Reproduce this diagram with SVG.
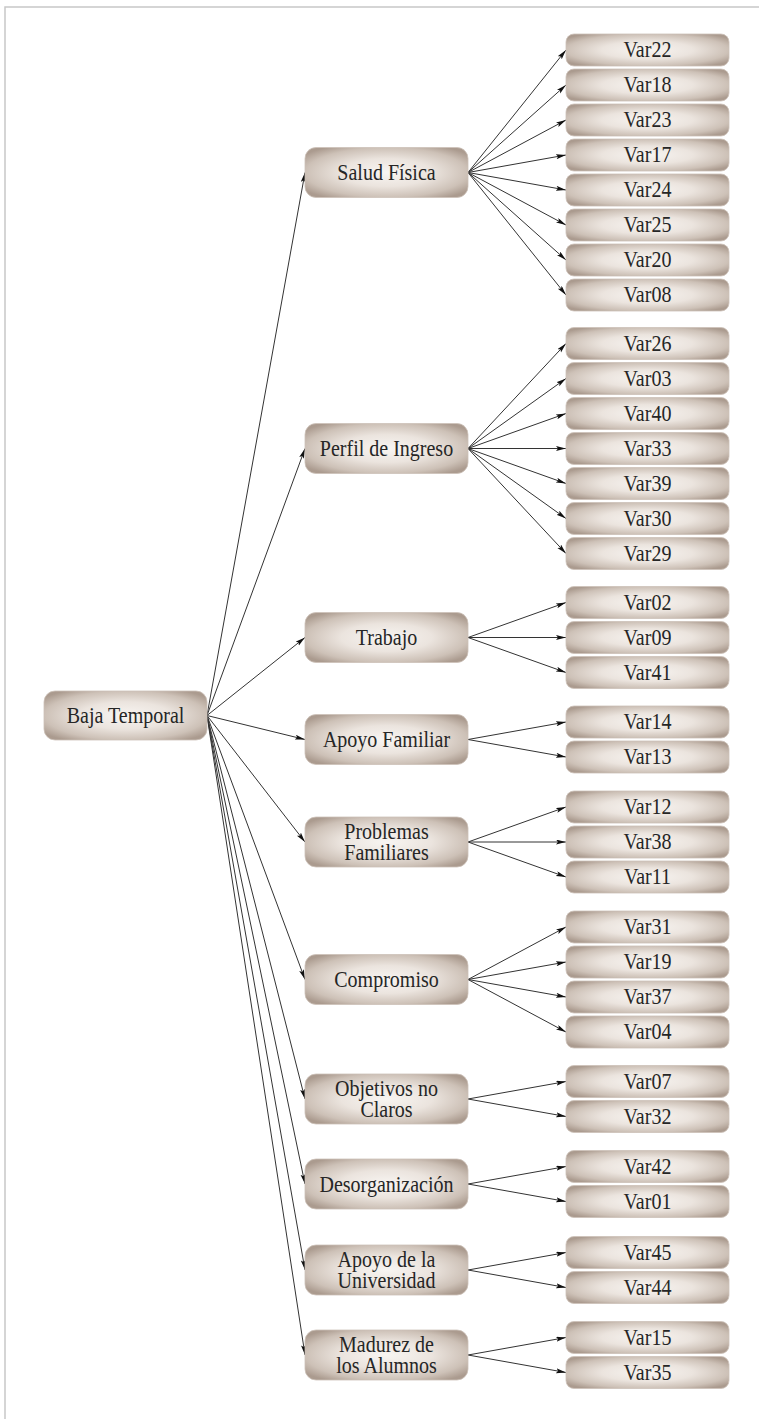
<svg xmlns="http://www.w3.org/2000/svg" width="759" height="1419" viewBox="0 0 759 1419">
<defs>
<radialGradient id="g" cx="0.5" cy="0.5" r="0.62">
<stop offset="0" stop-color="#f8f5f2"/>
<stop offset="0.45" stop-color="#ebe4de"/>
<stop offset="0.8" stop-color="#cdc1b7"/>
<stop offset="1" stop-color="#ab9b8f"/>
</radialGradient>
<marker id="a" markerUnits="userSpaceOnUse" markerWidth="11" markerHeight="6" refX="10" refY="2.5" orient="auto">
<path d="M0,0 L10,2.5 L0,5 L2,2.5 Z" fill="#111"/>
</marker>
</defs>
<style>
.b{fill:url(#g);stroke:#cdc2b9;stroke-width:0.8}
.t{font-family:"Liberation Serif","Times New Roman",serif;font-size:23px;fill:#262626;text-anchor:middle}
.e{fill:none;stroke:#333;stroke-width:1;marker-end:url(#a)}
.f{fill:none;stroke:#c8c8c8;stroke-width:1.5}
</style>
<rect width="759" height="1419" fill="#fff"/>
<path class="f" d="M5,1419 L5,7 L759,7"/>
<g id="connectors">
<path class="e" d="M207,715.5 L305,172.5"/>
<path class="e" d="M207,715.5 L305,448.5"/>
<path class="e" d="M207,715.5 L305,637.5"/>
<path class="e" d="M207,715.5 L305,739.5"/>
<path class="e" d="M207,715.5 L305,842"/>
<path class="e" d="M207,715.5 L305,979.5"/>
<path class="e" d="M207,715.5 L305,1099"/>
<path class="e" d="M207,715.5 L305,1184"/>
<path class="e" d="M207,715.5 L305,1270"/>
<path class="e" d="M207,715.5 L305,1355"/>
<path class="e" d="M468,172.5 L566,50"/>
<path class="e" d="M468,172.5 L566,85"/>
<path class="e" d="M468,172.5 L566,120"/>
<path class="e" d="M468,172.5 L566,155"/>
<path class="e" d="M468,172.5 L566,190"/>
<path class="e" d="M468,172.5 L566,225"/>
<path class="e" d="M468,172.5 L566,260"/>
<path class="e" d="M468,172.5 L566,295"/>
<path class="e" d="M468,448.5 L566,343.5"/>
<path class="e" d="M468,448.5 L566,378.5"/>
<path class="e" d="M468,448.5 L566,413.5"/>
<path class="e" d="M468,448.5 L566,448.5"/>
<path class="e" d="M468,448.5 L566,483.5"/>
<path class="e" d="M468,448.5 L566,518.5"/>
<path class="e" d="M468,448.5 L566,553.5"/>
<path class="e" d="M468,637.5 L566,602.5"/>
<path class="e" d="M468,637.5 L566,637.5"/>
<path class="e" d="M468,637.5 L566,672.5"/>
<path class="e" d="M468,739.5 L566,722"/>
<path class="e" d="M468,739.5 L566,757"/>
<path class="e" d="M468,842 L566,807"/>
<path class="e" d="M468,842 L566,842"/>
<path class="e" d="M468,842 L566,877"/>
<path class="e" d="M468,979.5 L566,927"/>
<path class="e" d="M468,979.5 L566,962"/>
<path class="e" d="M468,979.5 L566,997"/>
<path class="e" d="M468,979.5 L566,1032"/>
<path class="e" d="M468,1099 L566,1081.5"/>
<path class="e" d="M468,1099 L566,1116.5"/>
<path class="e" d="M468,1184 L566,1166.5"/>
<path class="e" d="M468,1184 L566,1201.5"/>
<path class="e" d="M468,1270 L566,1252.5"/>
<path class="e" d="M468,1270 L566,1287.5"/>
<path class="e" d="M468,1355 L566,1337.5"/>
<path class="e" d="M468,1355 L566,1372.5"/>
</g>
<g id="root"><rect class="b" x="44" y="691" width="163" height="49" rx="11"/><text class="t" transform="translate(125.5,722.5) scale(0.87,1)">Baja Temporal</text></g>
<g id="salud"><rect class="b" x="305" y="147.5" width="163" height="50" rx="11"/><text class="t" transform="translate(386.5,180) scale(0.87,1)">Salud Física</text></g>
<g id="perfil"><rect class="b" x="305" y="423.5" width="163" height="50" rx="11"/><text class="t" transform="translate(386.5,456) scale(0.87,1)">Perfil de Ingreso</text></g>
<g id="trabajo"><rect class="b" x="305" y="612.5" width="163" height="50" rx="11"/><text class="t" transform="translate(386.5,645) scale(0.87,1)">Trabajo</text></g>
<g id="apoyofam"><rect class="b" x="305" y="714.5" width="163" height="50" rx="11"/><text class="t" transform="translate(386.5,747) scale(0.87,1)">Apoyo Familiar</text></g>
<g id="problemas"><rect class="b" x="305" y="817" width="163" height="50" rx="11"/><text class="t" transform="translate(386.5,839) scale(0.87,1)"><tspan x="0" y="0">Problemas</tspan><tspan x="0" y="21">Familiares</tspan></text></g>
<g id="compromiso"><rect class="b" x="305" y="954.5" width="163" height="50" rx="11"/><text class="t" transform="translate(386.5,987) scale(0.87,1)">Compromiso</text></g>
<g id="objetivos"><rect class="b" x="305" y="1074" width="163" height="50" rx="11"/><text class="t" transform="translate(386.5,1096) scale(0.87,1)"><tspan x="0" y="0">Objetivos no</tspan><tspan x="0" y="21">Claros</tspan></text></g>
<g id="desorg"><rect class="b" x="305" y="1159" width="163" height="50" rx="11"/><text class="t" transform="translate(386.5,1191.5) scale(0.87,1)">Desorganización</text></g>
<g id="apoyouni"><rect class="b" x="305" y="1245" width="163" height="50" rx="11"/><text class="t" transform="translate(386.5,1267) scale(0.87,1)"><tspan x="0" y="0">Apoyo de la</tspan><tspan x="0" y="21">Universidad</tspan></text></g>
<g id="madurez"><rect class="b" x="305" y="1330" width="163" height="50" rx="11"/><text class="t" transform="translate(386.5,1352) scale(0.87,1)"><tspan x="0" y="0">Madurez de</tspan><tspan x="0" y="21">los Alumnos</tspan></text></g>
<g id="var22"><rect class="b" x="566" y="34" width="163" height="32" rx="8"/><text class="t" transform="translate(647.5,57) scale(0.87,1)">Var22</text></g>
<g id="var18"><rect class="b" x="566" y="69" width="163" height="32" rx="8"/><text class="t" transform="translate(647.5,92) scale(0.87,1)">Var18</text></g>
<g id="var23"><rect class="b" x="566" y="104" width="163" height="32" rx="8"/><text class="t" transform="translate(647.5,127) scale(0.87,1)">Var23</text></g>
<g id="var17"><rect class="b" x="566" y="139" width="163" height="32" rx="8"/><text class="t" transform="translate(647.5,162) scale(0.87,1)">Var17</text></g>
<g id="var24"><rect class="b" x="566" y="174" width="163" height="32" rx="8"/><text class="t" transform="translate(647.5,197) scale(0.87,1)">Var24</text></g>
<g id="var25"><rect class="b" x="566" y="209" width="163" height="32" rx="8"/><text class="t" transform="translate(647.5,232) scale(0.87,1)">Var25</text></g>
<g id="var20"><rect class="b" x="566" y="244" width="163" height="32" rx="8"/><text class="t" transform="translate(647.5,267) scale(0.87,1)">Var20</text></g>
<g id="var08"><rect class="b" x="566" y="279" width="163" height="32" rx="8"/><text class="t" transform="translate(647.5,302) scale(0.87,1)">Var08</text></g>
<g id="var26"><rect class="b" x="566" y="327.5" width="163" height="32" rx="8"/><text class="t" transform="translate(647.5,350.5) scale(0.87,1)">Var26</text></g>
<g id="var03"><rect class="b" x="566" y="362.5" width="163" height="32" rx="8"/><text class="t" transform="translate(647.5,385.5) scale(0.87,1)">Var03</text></g>
<g id="var40"><rect class="b" x="566" y="397.5" width="163" height="32" rx="8"/><text class="t" transform="translate(647.5,420.5) scale(0.87,1)">Var40</text></g>
<g id="var33"><rect class="b" x="566" y="432.5" width="163" height="32" rx="8"/><text class="t" transform="translate(647.5,455.5) scale(0.87,1)">Var33</text></g>
<g id="var39"><rect class="b" x="566" y="467.5" width="163" height="32" rx="8"/><text class="t" transform="translate(647.5,490.5) scale(0.87,1)">Var39</text></g>
<g id="var30"><rect class="b" x="566" y="502.5" width="163" height="32" rx="8"/><text class="t" transform="translate(647.5,525.5) scale(0.87,1)">Var30</text></g>
<g id="var29"><rect class="b" x="566" y="537.5" width="163" height="32" rx="8"/><text class="t" transform="translate(647.5,560.5) scale(0.87,1)">Var29</text></g>
<g id="var02"><rect class="b" x="566" y="586.5" width="163" height="32" rx="8"/><text class="t" transform="translate(647.5,609.5) scale(0.87,1)">Var02</text></g>
<g id="var09"><rect class="b" x="566" y="621.5" width="163" height="32" rx="8"/><text class="t" transform="translate(647.5,644.5) scale(0.87,1)">Var09</text></g>
<g id="var41"><rect class="b" x="566" y="656.5" width="163" height="32" rx="8"/><text class="t" transform="translate(647.5,679.5) scale(0.87,1)">Var41</text></g>
<g id="var14"><rect class="b" x="566" y="706" width="163" height="32" rx="8"/><text class="t" transform="translate(647.5,729) scale(0.87,1)">Var14</text></g>
<g id="var13"><rect class="b" x="566" y="741" width="163" height="32" rx="8"/><text class="t" transform="translate(647.5,764) scale(0.87,1)">Var13</text></g>
<g id="var12"><rect class="b" x="566" y="791" width="163" height="32" rx="8"/><text class="t" transform="translate(647.5,814) scale(0.87,1)">Var12</text></g>
<g id="var38"><rect class="b" x="566" y="826" width="163" height="32" rx="8"/><text class="t" transform="translate(647.5,849) scale(0.87,1)">Var38</text></g>
<g id="var11"><rect class="b" x="566" y="861" width="163" height="32" rx="8"/><text class="t" transform="translate(647.5,884) scale(0.87,1)">Var11</text></g>
<g id="var31"><rect class="b" x="566" y="911" width="163" height="32" rx="8"/><text class="t" transform="translate(647.5,934) scale(0.87,1)">Var31</text></g>
<g id="var19"><rect class="b" x="566" y="946" width="163" height="32" rx="8"/><text class="t" transform="translate(647.5,969) scale(0.87,1)">Var19</text></g>
<g id="var37"><rect class="b" x="566" y="981" width="163" height="32" rx="8"/><text class="t" transform="translate(647.5,1004) scale(0.87,1)">Var37</text></g>
<g id="var04"><rect class="b" x="566" y="1016" width="163" height="32" rx="8"/><text class="t" transform="translate(647.5,1039) scale(0.87,1)">Var04</text></g>
<g id="var07"><rect class="b" x="566" y="1065.5" width="163" height="32" rx="8"/><text class="t" transform="translate(647.5,1088.5) scale(0.87,1)">Var07</text></g>
<g id="var32"><rect class="b" x="566" y="1100.5" width="163" height="32" rx="8"/><text class="t" transform="translate(647.5,1123.5) scale(0.87,1)">Var32</text></g>
<g id="var42"><rect class="b" x="566" y="1150.5" width="163" height="32" rx="8"/><text class="t" transform="translate(647.5,1173.5) scale(0.87,1)">Var42</text></g>
<g id="var01"><rect class="b" x="566" y="1185.5" width="163" height="32" rx="8"/><text class="t" transform="translate(647.5,1208.5) scale(0.87,1)">Var01</text></g>
<g id="var45"><rect class="b" x="566" y="1236.5" width="163" height="32" rx="8"/><text class="t" transform="translate(647.5,1259.5) scale(0.87,1)">Var45</text></g>
<g id="var44"><rect class="b" x="566" y="1271.5" width="163" height="32" rx="8"/><text class="t" transform="translate(647.5,1294.5) scale(0.87,1)">Var44</text></g>
<g id="var15"><rect class="b" x="566" y="1321.5" width="163" height="32" rx="8"/><text class="t" transform="translate(647.5,1344.5) scale(0.87,1)">Var15</text></g>
<g id="var35"><rect class="b" x="566" y="1356.5" width="163" height="32" rx="8"/><text class="t" transform="translate(647.5,1379.5) scale(0.87,1)">Var35</text></g>
</svg>
